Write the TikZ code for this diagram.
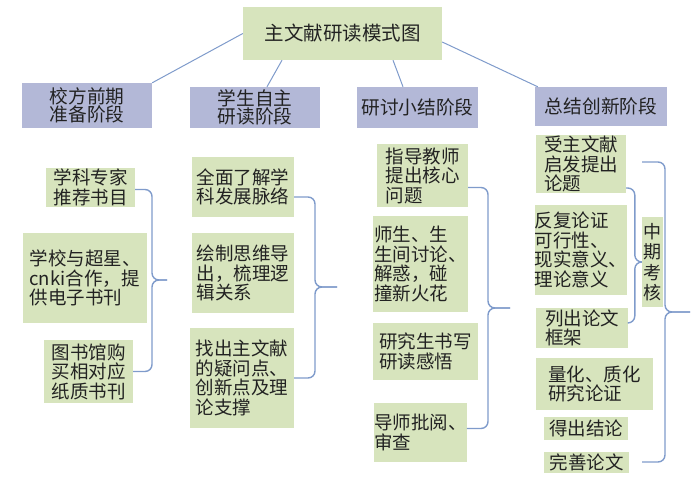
\documentclass[tikz,border=0pt]{standalone}
\usepackage{fontspec}
\newfontfamily\cjk{Noto Sans CJK SC}
\usepackage{tikz}
\definecolor{grn}{HTML}{D7E4BD}
\definecolor{lav}{HTML}{B3B8D7}
\definecolor{lnk}{HTML}{7F9BCB}
\definecolor{ink}{HTML}{222222}
\newcommand\headfont{\cjk\fontsize{19.5pt}{22pt}\selectfont}
\newcommand\stagefont{\cjk\fontsize{18.7pt}{18.5pt}\selectfont}
\newcommand\boxfont{\cjk\fontsize{18.5pt}{19.5pt}\selectfont}
\tikzset{
  head/.style={rectangle, fill=grn, text=ink, inner sep=0pt, font=\headfont},
  stage/.style={rectangle, fill=lav, text=ink, inner sep=0pt, align=left, font=\stagefont},
  item/.style={rectangle, fill=grn, text=ink, inner sep=0pt, align=left, font=\boxfont},
  lk/.style={draw=lnk, line width=1pt},
  brc/.style={draw=lnk, line width=1.4pt, rounded corners=7pt}
}

\begin{document}
\begin{tikzpicture}[x=1pt, y=-1pt]
        \useasboundingbox (0,0) rectangle (700,481);
        \node[head, minimum width=199pt, minimum height=53pt] (ttl) at (342.5,33.5) {主文献研读模式图};
        \node[stage, minimum width=130pt, minimum height=45pt] (kf) at (87,105.5) {校方前期\\准备阶段};
        \node[stage, minimum width=130pt, minimum height=41pt] (xs) at (255,107.5) {学生自主\\研读阶段};
        \node[stage, minimum width=121pt, minimum height=41pt] (yt) at (417.5,107.5) {研讨小结阶段};
        \node[stage, minimum width=132pt, minimum height=39pt] (zj) at (601,106.5) {总结创新阶段};
        \draw[lk] (ttl.west) -- (kf.north east);
        \draw[lk] ([xshift=-60.5pt]ttl.south) -- ([xshift=12pt]xs.north);
        \draw[lk] ([xshift=50.5pt]ttl.south) -- ([xshift=-14.5pt]yt.north);
        \draw[lk] ([yshift=-8.5pt]ttl.east) -- ([xshift=3pt]zj.north west);

        \node[item, minimum width=89pt, minimum height=39pt] (a1) at (90.5,187.5) {学科专家\\推荐书目};
        \node[item, minimum width=124pt, minimum height=90pt] (a2) at (85,278) {学校与超星、\\cnki合作，提\\供电子书刊};
        \node[item, minimum width=89pt, minimum height=63pt] (a3) at (88.5,371.5) {图书馆购\\买相对应\\纸质书刊};
        \coordinate (ta) at (167,280);
        \draw[brc] ([yshift=-2pt]a1.east) -| ([xshift=-15pt]ta) -- (ta);
        \draw[brc] (a3.east) -| ([xshift=-15pt]ta) -- (ta);

        \node[item, minimum width=102pt, minimum height=60pt] (b1) at (243,187) {全面了解学\\科发展脉络};
        \node[item, minimum width=102pt, minimum height=80pt] (b2) at (243,273) {绘制思维导\\出，梳理逻\\辑关系};
        \node[item, minimum width=104pt, minimum height=100pt] (b3) at (242,378) {找出主文献\\的疑问点、\\创新点及理\\论支撑};
        \coordinate (tb) at (337,287);
        \draw[brc] ([yshift=-10pt]b1.east) -| ([xshift=-22pt]tb) -- (tb);
        \draw[brc] (b3.east) -| ([xshift=-22pt]tb) -- (tb);

        \node[item, minimum width=91pt, minimum height=63pt] (c1) at (422.5,175.5) {指导教师\\提出核心\\问题};
        \node[item, minimum width=95pt, minimum height=96pt] (c2) at (420.5,264) {师生、生\\生间讨论、\\解惑，碰\\撞新火花};
        \node[item, minimum width=105pt, minimum height=57pt] (c3) at (425.5,351.5) {研究生书写\\研读感悟};
        \node[item, minimum width=91pt, minimum height=59pt] (c4) at (420.5,432.5) {导师批阅、\\审查};
        \coordinate (tc) at (510,308);
        \draw[brc] ([yshift=-12pt]c1.east) -| ([xshift=-22pt]tc) -- (tc);
        \draw[brc] ([yshift=4pt]c4.east) -| ([xshift=-22pt]tc) -- (tc);

        \node[item, minimum width=90pt, minimum height=58pt] (d1) at (581,164) {受主文献\\启发提出\\论题};
        \node[item, minimum width=90pt, minimum height=90pt] (d2) at (581,250) {反复论证\\可行性、\\现实意义、\\理论意义};
        \node[item, minimum width=92pt, minimum height=40pt] (d3) at (582,328) {列出论文\\框架};
        \node[item, minimum width=117pt, minimum height=52pt] (d4) at (594.5,384) {量化、质化\\研究论证};
        \node[item, minimum width=84pt, minimum height=23pt] (d5) at (586,428.5) {得出结论};
        \node[item, minimum width=85pt, minimum height=21pt] (d6) at (586.5,462.5) {完善论文};
        \node[item, align=center, minimum width=21pt, minimum height=90pt, font=\cjk\fontsize{18pt}{20.5pt}\selectfont] (mq) at (652.5,262) {中\\期\\考\\核};
        \draw[brc] ([yshift=-24pt]d1.east) -| ([xshift=-7pt]mq.west) -- (mq.west);
        \draw[brc] ([yshift=5pt]d3.east) -| ([xshift=-7pt]mq.west) -- (mq.west);
        \coordinate (te) at (690,312);
        \coordinate (et) at (642,162);
        \coordinate (eb) at (642,462);
        \draw[brc] (et) -| ([xshift=-25pt]te) -- (te);
        \draw[brc] (eb) -| ([xshift=-25pt]te) -- (te);
\end{tikzpicture}
\end{document}
